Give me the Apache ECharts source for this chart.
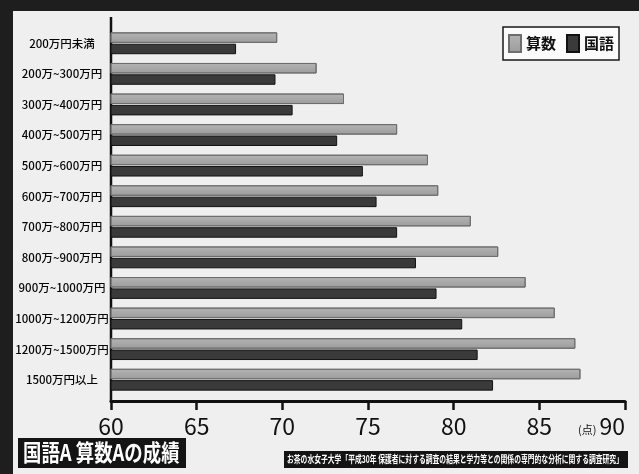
<!DOCTYPE html>
<html>
<head>
<meta charset="utf-8">
<script src="https://cdn.jsdelivr.net/npm/echarts@6/dist/echarts.min.js"></script>
<style>
	html, body { margin: 0; padding: 0; background: #efefef; overflow: hidden; }
	#chart { position: absolute; left: 0; top: 0; width: 100vw; height: 100vh; }
</style>
</head>
<body>
<div id="chart"></div>
<script>
// income brackets, top to bottom
const categories = [
	'200万円未満', '200万~300万円', '300万~400万円', '400万~500万円',
	'500万~600万円', '600万~700万円', '700万~800万円', '800万~900万円',
	'900万~1000万円', '1000万~1200万円', '1200万~1500万円', '1500万円以上'
];
const mathScores = [ 69.7, 72.0, 73.6, 76.7, 78.5, 79.1, 81.0, 82.6, 84.2, 85.9, 87.1, 87.4 ];
const japaneseScores = [ 67.3, 69.6, 70.6, 73.2, 74.7, 75.5, 76.7, 77.8, 79.0, 80.5, 81.4, 82.3 ];
const xTickLabels = [ 60, 65, 70, 75, 80, 85, 90 ];
const seriesNames = [ '算数', '国語' ];

const chartTitle = '国語A 算数Aの成績';
const sourceText = 'お茶の水女子大学「平成30年 保護者に対する調査の結果と学力等との関係の専門的な分析に関する調査研究」';

const cjk = '"Noto Sans CJK JP", sans-serif';

const grid = { left: 111, right: 14, top: 28, bottom: 79 };

const chart = echarts.init( document.getElementById( 'chart' ), null, { renderer: 'canvas' } );

const option = {
	backgroundColor: '#efefef',
	animation: false,
	grid: grid,
	legend: {
		data: seriesNames,
		right: 20,
		top: 27,
		icon: 'rect',
		itemWidth: 12,
		itemHeight: 17,
		itemGap: 10,
		padding: [ 7, 5, 7, 5 ],
		backgroundColor: '#fbfbfb',
		borderColor: '#1a1a1a',
		borderWidth: 1.5,
		borderRadius: 0,
		textStyle: { fontFamily: cjk, fontSize: 15, fontWeight: 'bold', color: '#111' }
	},
	xAxis: {
		type: 'value',
		min: xTickLabels[ 0 ],
		max: xTickLabels[ xTickLabels.length - 1 ],
		interval: 5,
		offset: 6,
		splitLine: { show: false },
		axisLine: { show: true, lineStyle: { color: '#111', width: 3 } },
		axisTick: { show: true, length: 9, lineStyle: { color: '#111', width: 2.5 } },
		axisLabel: {
			margin: 14,
			fontFamily: cjk,
			fontSize: 23,
			color: '#111',
			alignMaxLabel: 'right',
			formatter: ( v ) => v === 90 ? '{u|(点)}' + v : String( v ),
			rich: {
				u: { fontFamily: cjk, fontSize: 11, color: '#111', padding: [ 6, 3, 0, 0 ] }
			}
		}
	},
	yAxis: {
		type: 'category',
		inverse: true,
		data: categories,
		axisLine: { show: false },
		axisTick: { show: false },
		axisLabel: {
			margin: 49,
			align: 'center',
			fontFamily: cjk,
			fontSize: 11.5,
			fontWeight: 500,
			color: '#050505'
		}
	},
	series: [
		{
			name: seriesNames[ 0 ],
			type: 'bar',
			data: mathScores,
			barWidth: 10.5,
			barGap: '8%',
			itemStyle: {
				color: new echarts.graphic.LinearGradient( 0, 0, 0, 1, [
					{ offset: 0, color: '#b4b4b4' },
					{ offset: 1, color: '#9c9c9c' }
				] ),
				borderColor: '#6e6e6e',
				borderWidth: 1
			}
		},
		{
			name: seriesNames[ 1 ],
			type: 'bar',
			data: japaneseScores,
			barWidth: 10.5,
			barGap: '8%',
			itemStyle: {
				color: '#3a3a3a',
				borderColor: '#111',
				borderWidth: 1
			}
		}
	]
};

chart.setOption( option );

// frame of the photographed screen, vertical axis line and caption boxes
const axisX = chart.convertToPixel( { xAxisIndex: 0 }, xTickLabels[ 0 ] );
chart.setOption( {
	graphic: [
		{ type: 'rect', shape: { x: 0, y: 0, width: 639, height: 11 }, style: { fill: '#1e1e1e' }, silent: true },
		{ type: 'rect', shape: { x: 0, y: 0, width: 13, height: 474 }, style: { fill: '#1e1e1e' }, silent: true },
		{
			type: 'line',
			shape: { x1: axisX, y1: 17, x2: axisX, y2: 402 },
			style: { stroke: '#111', lineWidth: 2.5 },
			silent: true
		},
		{
			type: 'group',
			left: 18,
			top: 438,
			children: [
				{ type: 'rect', shape: { x: 0, y: 0, width: 168, height: 30 }, style: { fill: '#141414' } },
				{
					type: 'text',
					x: 5, y: 3,
					scaleX: 0.8,
					style: { text: chartTitle, fill: '#fff', font: 'bold 23px ' + cjk }
				}
			]
		},
		{
			type: 'group',
			left: 284,
			top: 451,
			children: [
				{ type: 'rect', shape: { x: 0, y: 0, width: 344, height: 17 }, style: { fill: '#141414' } },
				{
					type: 'text',
					x: 3, y: 3,
					scaleX: 0.68,
					style: { text: sourceText, fill: '#fff', font: 'bold 10px ' + cjk }
				}
			]
		}
	]
} );
</script>
</body>
</html>
